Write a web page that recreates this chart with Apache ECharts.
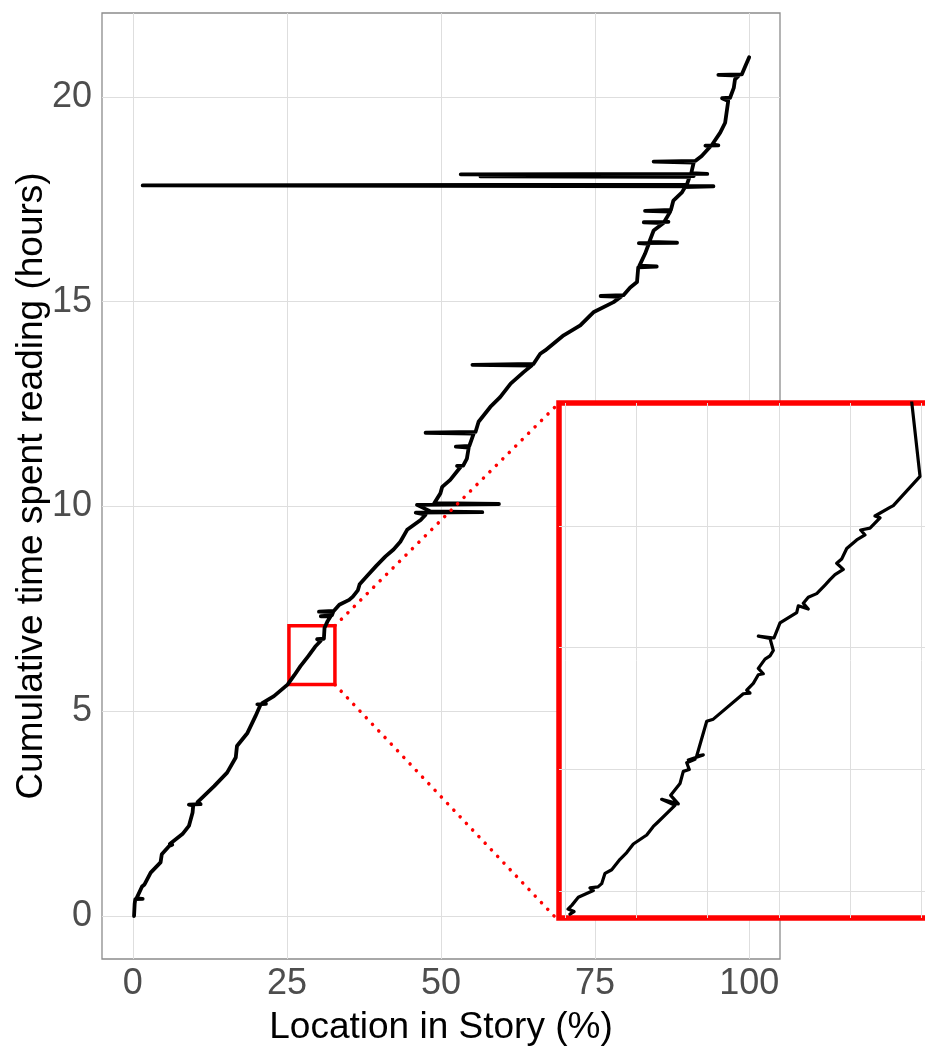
<!DOCTYPE html>
<html>
<head>
<meta charset="utf-8">
<title>Cumulative reading time by story location</title>
<script src="https://cdn.jsdelivr.net/npm/echarts@6/dist/echarts.min.js"></script>
<style>
  html, body { margin: 0; padding: 0; background: #fff; }
  #chart { width: 925px; height: 1048px; }
</style>
</head>
<body>
<div id="chart"></div>
<script>
// Reading trace: [location in story (%), cumulative hours].
// Horizontal excursions are jumps back/forward in the text.
const readingPath = [
  [0.2, 0.0], [0.3, 0.30], [0.4, 0.41], [1.6, 0.42], [0.6, 0.43],
  [1.5, 0.72], [1.9, 0.77], [1.6, 0.79], [2.9, 1.06], [4.5, 1.31],
  [4.7, 1.51], [5.9, 1.71], [6.4, 1.74], [6.0, 1.76], [8.05, 2.0],
  [9.1, 2.2], [9.7, 2.53], [9.8, 2.70], [9.1, 2.72], [11.0, 2.73],
  [10.5, 2.78], [13.2, 3.17], [15.3, 3.5], [16.7, 3.87], [16.9, 4.15],
  [18.6, 4.47], [19.9, 4.88], [20.7, 5.15], [20.2, 5.17], [21.6, 5.18],
  [21.0, 5.2], [22.9, 5.37], [25.1, 5.65], [26.2, 5.88], [27.2, 6.1],
  [28.5, 6.35], [29.6, 6.58], [30.5, 6.72], [29.9, 6.76], [31.0, 6.77],
  [30.8, 6.80], [31.1, 7.03], [31.6, 7.2], [32.1, 7.32], [30.5, 7.32],
  [32.3, 7.34], [32.5, 7.42], [30.2, 7.43], [32.6, 7.45], [33.5, 7.6],
  [35.1, 7.72], [35.7, 7.8], [36.5, 7.95], [36.8, 8.1], [38.0, 8.3],
  [39.5, 8.55], [41.0, 8.78], [42.3, 8.95], [43.4, 9.14], [44.5, 9.43],
  [46.7, 9.67], [47.5, 9.8], [45.9, 9.85], [56.7, 9.86], [48.3, 9.88],
  [46.1, 10.04], [59.4, 10.06], [48.9, 10.08], [49.9, 10.32], [50.2, 10.48],
  [51.5, 10.65], [53.2, 10.97], [52.6, 10.99], [53.6, 11.0], [54.2, 11.17],
  [54.5, 11.44], [52.4, 11.46], [54.6, 11.48], [55.3, 11.78], [47.5, 11.80],
  [55.6, 11.82], [56.1, 12.07], [58.0, 12.43], [59.6, 12.67], [61.3, 13.0],
  [63.4, 13.28], [64.7, 13.44], [55.1, 13.46], [65.0, 13.48], [66.1, 13.73],
  [66.9, 13.81], [69.9, 14.18], [72.6, 14.42], [74.8, 14.75], [78.0, 14.99],
  [79.2, 15.12], [75.9, 15.14], [79.6, 15.16], [80.7, 15.35], [81.8, 15.48],
  [82.0, 15.84], [81.8, 15.86], [85.0, 15.86], [82.2, 15.88], [83.1, 16.17],
  [83.7, 16.41], [82.1, 16.43], [88.3, 16.44], [83.8, 16.46], [84.5, 16.74],
  [86.1, 16.92], [82.9, 16.94], [86.9, 16.95], [86.3, 16.97], [87.2, 17.2],
  [83.1, 17.22], [87.3, 17.24], [87.7, 17.47], [89.1, 17.67], [89.6, 17.8],
  [94.2, 17.82], [1.6, 17.84], [89.9, 17.86], [90.3, 18.04], [56.4, 18.06],
  [91.0, 18.07], [90.4, 18.09], [53.2, 18.11], [93.2, 18.12], [90.6, 18.14],
  [91.0, 18.4], [84.5, 18.42], [91.3, 18.44], [92.3, 18.56], [93.7, 18.79],
  [92.9, 18.81], [95.0, 18.82], [94.0, 18.84], [95.3, 19.13], [96.1, 19.37],
  [96.6, 19.9], [95.6, 19.97], [96.9, 19.98], [97.5, 20.22], [97.7, 20.43],
  [98.3, 20.52], [95.0, 20.54], [98.8, 20.55], [98.5, 20.57], [99.4, 20.76],
  [100.0, 20.97]
];

// Fine-grained trace inside the magnified window.
const detailPath = [
  [25.535, 5.661], [25.610, 5.668], [25.498, 5.675], [25.572, 5.686],
  [25.690, 5.708], [25.970, 5.727], [25.908, 5.734], [26.057, 5.737],
  [26.126, 5.746], [26.188, 5.775], [26.313, 5.785], [26.468, 5.814],
  [26.593, 5.833], [26.716, 5.857], [26.966, 5.882], [27.089, 5.906],
  [27.152, 5.915], [27.493, 5.965], [27.245, 5.982], [27.555, 5.969],
  [27.413, 5.993], [27.587, 6.026], [27.648, 6.060], [27.760, 6.065],
  [27.712, 6.084], [27.866, 6.094], [27.741, 6.092], [28.021, 6.106],
  [27.898, 6.103], [28.085, 6.200], [28.208, 6.206], [28.767, 6.277],
  [28.892, 6.279], [28.831, 6.287], [28.954, 6.306], [29.047, 6.330],
  [29.140, 6.333], [29.047, 6.348], [29.172, 6.374], [29.265, 6.383],
  [29.327, 6.398], [29.265, 6.432], [29.047, 6.438], [29.340, 6.433],
  [29.452, 6.475], [29.763, 6.504], [29.793, 6.523], [29.979, 6.514],
  [29.886, 6.530], [29.979, 6.547], [30.136, 6.557], [30.291, 6.581],
  [30.384, 6.596], [30.477, 6.610], [30.632, 6.625], [30.509, 6.642],
  [30.602, 6.654], [30.696, 6.683], [30.882, 6.707], [31.037, 6.721],
  [30.957, 6.735], [31.130, 6.740], [31.317, 6.769], [31.223, 6.774],
  [31.503, 6.798], [31.565, 6.803], [32.063, 6.885], [31.908, 7.093]
];

// Magnified window: [xMin, xMax], [yMin, yMax]
const zoomX = [25.33, 32.79];
const zoomY = [5.65, 7.09];

// Main axis ticks
const xTicks = [0, 25, 50, 75, 100];
const yTicks = [0, 5, 10, 15, 20];

// Grid lines of the magnified panel
const detailGridX = [25.44, 26.78, 28.10, 29.43, 30.76, 32.09];
const detailGridY = [5.726, 6.067, 6.408, 6.746];

const FONT = '"Liberation Sans", Arial, Helvetica, sans-serif';
const RED = '#ff0000';
const GRID_GREY = '#dedede';

const chart = echarts.init(document.getElementById('chart'), null, { renderer: 'canvas' });

chart.setOption({
  animation: false,
  backgroundColor: '#ffffff',
  textStyle: { fontFamily: FONT },
  grid: [
    {
      left: 102, top: 13, right: 145, bottom: 89,
      outerBoundsMode: 'none', containLabel: false,
      show: true, borderColor: '#8c8c8c', borderWidth: 1.3,
      backgroundColor: 'transparent'
    },
    {
      left: 559, top: 403, width: 400, height: 515,
      outerBoundsMode: 'none', containLabel: false,
      show: true, borderColor: RED, borderWidth: 5.5,
      backgroundColor: '#ffffff', z: 10
    }
  ],
  xAxis: [
    {
      gridIndex: 0, type: 'value', min: -5, max: 105,
      axisLine: { show: false },
      axisTick: { show: false, customValues: xTicks },
      axisLabel: {
        customValues: xTicks, fontSize: 36, color: '#4d4d4d',
        margin: 7, fontFamily: FONT
      },
      splitLine: { show: true, lineStyle: { color: GRID_GREY, width: 1 } },
      name: 'Location in Story (%)', nameLocation: 'middle', nameGap: 50,
      nameMoveOverlap: false,
      nameTextStyle: { fontSize: 37, color: '#000', fontFamily: FONT }
    },
    {
      gridIndex: 1, type: 'value', min: zoomX[0], max: zoomX[1], z: 11,
      axisLine: { show: false },
      axisTick: { show: false, customValues: detailGridX },
      axisLabel: { show: false },
      splitLine: { show: true, lineStyle: { color: GRID_GREY, width: 1 } }
    }
  ],
  yAxis: [
    {
      gridIndex: 0, type: 'value', min: -1.05, max: 22.05,
      axisLine: { show: false },
      axisTick: { show: false, customValues: yTicks },
      axisLabel: {
        customValues: yTicks, fontSize: 36, color: '#4d4d4d',
        margin: 10, fontFamily: FONT
      },
      splitLine: { show: true, lineStyle: { color: GRID_GREY, width: 1 } },
      name: 'Cumulative time spent reading (hours)', nameLocation: 'middle',
      nameGap: 52, nameRotate: 90, nameMoveOverlap: false,
      nameTextStyle: { fontSize: 37, color: '#000', fontFamily: FONT }
    },
    {
      gridIndex: 1, type: 'value', min: zoomY[0], max: zoomY[1], z: 11,
      axisLine: { show: false },
      axisTick: { show: false, customValues: detailGridY },
      axisLabel: { show: false },
      splitLine: { show: true, lineStyle: { color: GRID_GREY, width: 1 } }
    }
  ],
  series: [
    {
      type: 'line', xAxisIndex: 0, yAxisIndex: 0, data: readingPath,
      symbol: 'none', z: 2,
      lineStyle: { color: '#000', width: 3.8, cap: 'round', join: 'round' },
      markArea: {
        silent: true,
        itemStyle: { color: 'rgba(0,0,0,0)', borderColor: RED, borderWidth: 3.5 },
        data: [[{ coord: [zoomX[0], zoomY[0]] }, { coord: [zoomX[1], zoomY[1]] }]]
      }
    },
    {
      type: 'line', xAxisIndex: 1, yAxisIndex: 1, data: detailPath,
      symbol: 'none', z: 12,
      lineStyle: { color: '#000', width: 3.2, cap: 'round', join: 'round' }
    }
  ]
});

// Dotted connectors from the window's right corners to the magnified panel.
const mainTop = chart.convertToPixel({ gridIndex: 0 }, [zoomX[1], zoomY[1]]);
const mainBot = chart.convertToPixel({ gridIndex: 0 }, [zoomX[1], zoomY[0]]);
const detTop = chart.convertToPixel({ gridIndex: 1 }, [zoomX[0], zoomY[1]]);
const detBot = chart.convertToPixel({ gridIndex: 1 }, [zoomX[0], zoomY[0]]);

const dotted = { stroke: RED, lineWidth: 3.5, lineDash: [0.1, 9], lineCap: 'round' };
chart.setOption({
  graphic: [
    {
      type: 'line', z: 3, silent: true,
      shape: { x1: mainTop[0], y1: mainTop[1], x2: detTop[0] - 3, y2: detTop[1] + 3 },
      style: dotted
    },
    {
      type: 'line', z: 3, silent: true,
      shape: { x1: mainBot[0], y1: mainBot[1], x2: detBot[0] - 3, y2: detBot[1] },
      style: dotted
    }
  ]
});
</script>
</body>
</html>
